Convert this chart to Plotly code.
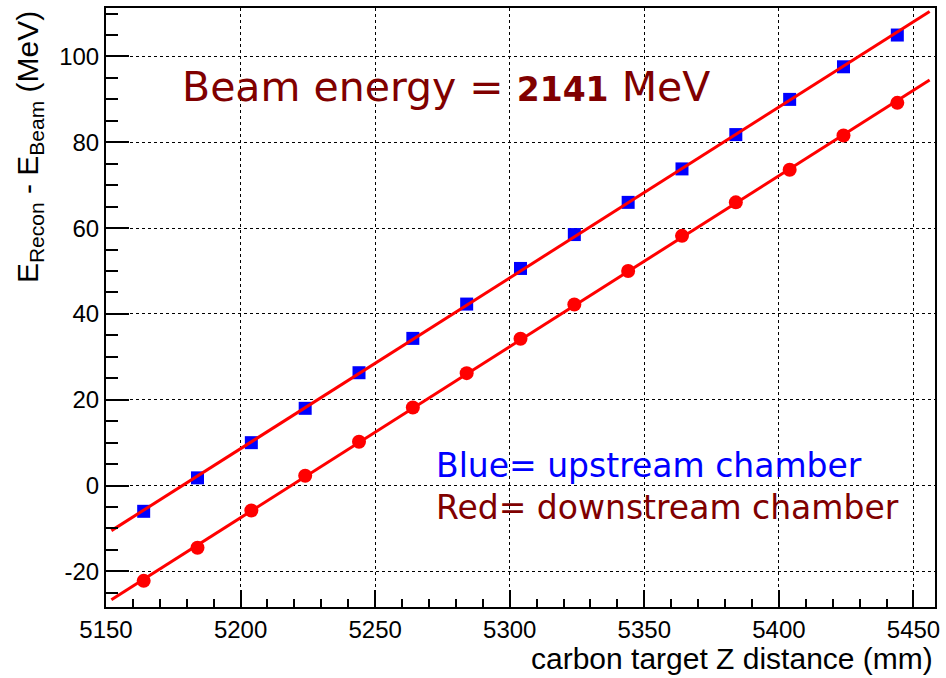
import numpy as np
import plotly.graph_objects as go

# Target Z positions (mm)
z_pos = [5164, 5184, 5204, 5224, 5244, 5264, 5284, 5304, 5324, 5344,
         5364, 5384, 5404, 5424, 5444]
# E_Recon - E_Beam (MeV)
upstream = [-6.0, 1.8, 10.0, 18.0, 26.3, 34.3, 42.3, 50.6, 58.5, 66.0,
            73.8, 81.8, 90.0, 97.6, 105.0]
downstream = [-22.2, -14.5, -5.8, 2.3, 10.2, 18.2, 26.2, 34.2, 42.2, 50.0,
              58.2, 66.0, 73.6, 81.6, 89.2]

y_tickvals = [-20, 0, 20, 40, 60, 80, 100]
y_ticktext = ["-20", "0", "20", "40", "60", "80", "100"]

x_range = [5150, 5458]
y_range = [-28.3, 111.3]
fit_span = [5152, 5456]

RED = "#ff0000"
BLUE = "#0000ff"
DARKRED = "#800000"
AXFONT = "Liberation Sans, Arial, sans-serif"
TXTFONT = "DejaVu Sans, Verdana, sans-serif"

fig = go.Figure()

fig.add_trace(go.Scatter(x=z_pos, y=upstream, mode="markers",
                         marker=dict(symbol="square", size=13, color=BLUE,
                                     line=dict(width=0)),
                         showlegend=False))
fig.add_trace(go.Scatter(x=z_pos, y=downstream, mode="markers",
                         marker=dict(symbol="circle", size=14, color=RED,
                                     line=dict(width=0)),
                         showlegend=False))

# straight-line fits to each chamber
xf = np.array(fit_span, dtype=float)
for ys in (upstream, downstream):
    p = np.polyfit(z_pos, ys, 1)
    fig.add_trace(go.Scatter(x=xf, y=np.polyval(p, xf), mode="lines",
                             line=dict(color=RED, width=3),
                             showlegend=False, hoverinfo="skip"))

axis_common = dict(
    showline=True, linecolor="black", linewidth=2, mirror=True,
    ticks="inside", tickcolor="black", tickwidth=2,
    showgrid=True, gridcolor="black", gridwidth=1, griddash="dot",
    zeroline=False,
    tickfont=dict(family=AXFONT, size=24, color="black"),
)

fig.update_xaxes(range=x_range, tick0=5150, dtick=50, ticklen=17,
                 minor=dict(dtick=10, ticks="inside", ticklen=8,
                            tickcolor="black", tickwidth=2, showgrid=False),
                 **axis_common)
fig.update_yaxes(range=y_range, tickvals=y_tickvals, ticktext=y_ticktext,
                 ticklen=23,
                 minor=dict(tick0=0, dtick=5, ticks="inside", ticklen=12,
                            tickcolor="black", tickwidth=2, showgrid=False),
                 **axis_common)

annotations = [
    dict(text="E<sub>Recon</sub> - E<sub>Beam</sub> (MeV)", textangle=-90,
         xref="paper", yref="paper", x=-0.093, y=0.998,
         xanchor="center", yanchor="top", showarrow=False,
         font=dict(family=AXFONT, size=30, color="black")),
    dict(text="carbon target Z distance (mm)",
         xref="paper", yref="paper", x=1.0, y=-0.086,
         xanchor="right", yanchor="middle", showarrow=False,
         font=dict(family=AXFONT, size=30, color="black")),
    dict(text="Beam energy = <b><span style='font-size:33px'>2141</span></b> MeV",
         xref="paper", yref="paper", x=0.089, y=0.8686,
         xanchor="left", yanchor="middle", showarrow=False,
         font=dict(family=TXTFONT, size=41, color=DARKRED)),
    dict(text="Blue= upstream chamber",
         xref="paper", yref="paper", x=0.396, y=0.236,
         xanchor="left", yanchor="middle", showarrow=False,
         font=dict(family=TXTFONT, size=33, color=BLUE)),
    dict(text="Red= downstream chamber",
         xref="paper", yref="paper", x=0.396, y=0.166,
         xanchor="left", yanchor="middle", showarrow=False,
         font=dict(family=TXTFONT, size=33, color=DARKRED)),
]

fig.update_layout(
    width=946, height=678,
    margin=dict(l=106, r=9, t=6, b=71),
    paper_bgcolor="white", plot_bgcolor="white",
    annotations=annotations,
    showlegend=False,
)

fig.write_html("out.html")
